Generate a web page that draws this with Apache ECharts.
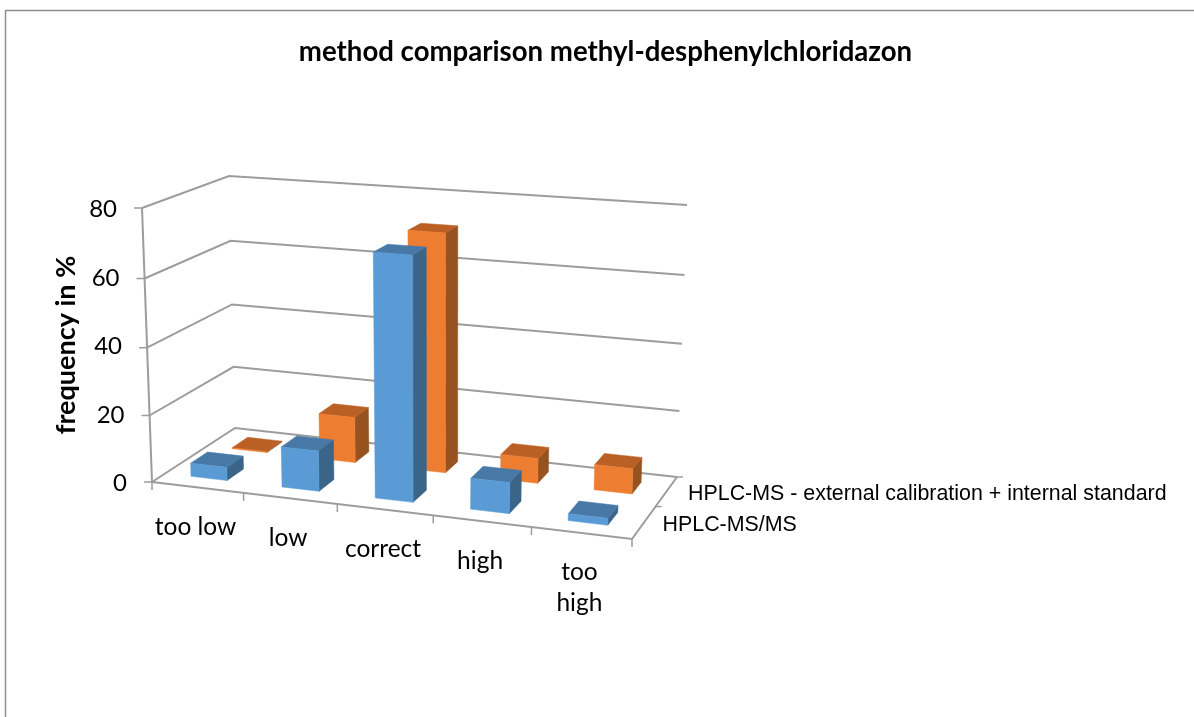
<!DOCTYPE html>
<html><head><meta charset="utf-8">
<style>html,body{margin:0;padding:0;background:#fff}#c{width:1194px;height:717px}</style>
<script src="https://cdn.jsdelivr.net/npm/echarts@6/dist/echarts.min.js"></script>
</head><body><div id="c"></div>
<script>
const titleText = 'method comparison methyl-desphenylchloridazon';
const yAxisName = 'frequency in %';
const categories = ['too low', 'low', 'correct', 'high', 'too\nhigh'];
const yTicks = [0, 20, 40, 60, 80];
const nameMSMS = 'HPLC-MS/MS';
const nameExt = 'HPLC-MS - external calibration + internal standard';
const valuesMSMS = [4, 12, 70.5, 9, 2];
const valuesExt = [0.3, 14, 71.3, 7.5, 7.5];

// perspective calibration of the 3D box: floor and top (value = axis max) corners
const FLOOR = {a:[152,482], c:[632,539], d:[677,477], b:[235,428]};
const TOP   = {a:[142,208], c:[645,243], d:[687,205], b:[229,176]};
function homography(q){
  const det=(p,r)=>p[0]*r[1]-p[1]*r[0];
  const dx1=[q.c[0]-q.d[0],q.c[1]-q.d[1]], dx2=[q.b[0]-q.d[0],q.b[1]-q.d[1]];
  const s=[q.a[0]-q.c[0]+q.d[0]-q.b[0], q.a[1]-q.c[1]+q.d[1]-q.b[1]];
  const D=det(dx1,dx2), g=det(s,dx2)/D, h=det(dx1,s)/D;
  return (u,w)=>{
    const k=g*u+h*w+1;
    return [0,1].map(i=>((q.c[i]-q.a[i]+g*q.c[i])*u+(q.b[i]-q.a[i]+h*q.b[i])*w+q.a[i])/k);
  };
}
const floorH=homography(FLOOR), topH=homography(TOP);
const HEIGHT_WARP=0.04;
function project(u,w,v0){
  const v=v0/(1+HEIGHT_WARP*(1-v0));
  const f=floorH(u,w), t=topH(u,w);
  return [f[0]+(t[0]-f[0])*v, f[1]+(t[1]-f[1])*v];
}
const BAR_HALF_U=0.04, SLOT_HALF_W=0.1, BAR_SHIFT_U=-0.003;
const GRAY='#9c9c9c';
const LATO='Lato, "Noto Sans", sans-serif';

function barItem(depthCenter, colors){
  return function(params, api){
    const cs=params.coordSys;
    const p=api.coord([api.value(0), api.value(1)]);
    const uc=(p[0]-cs.x)/cs.width+BAR_SHIFT_U;
    const v=(cs.y+cs.height-p[1])/cs.height;
    const u0=uc-BAR_HALF_U,u1=uc+BAR_HALF_U,w0=depthCenter-SLOT_HALF_W,w1=depthCenter+SLOT_HALF_W;
    const poly=(pts,c)=>({type:'polygon',shape:{points:pts},style:{fill:c,stroke:c,lineWidth:0.5}});
    return {type:'group',children:[
      poly([project(u1,w0,0),project(u1,w1,0),project(u1,w1,v),project(u1,w0,v)],colors.side),
      poly([project(u0,w0,v),project(u1,w0,v),project(u1,w1,v),project(u0,w1,v)],colors.top),
      poly([project(u0,w0,0),project(u1,w0,0),project(u1,w0,v),project(u0,w0,v)],colors.front)
    ]};
  };
}
function line(pts,w){return {type:'polyline',shape:{points:pts},style:{fill:null,stroke:GRAY,lineWidth:w||2}};}
function frameItem(params, api){
  if(params.dataIndex!==0) return null;
  const kids=[];
  const max=yTicks[yTicks.length-1];
  yTicks.forEach(t=>{
    const v=t/max, a=project(0,0,v);
    kids.push(line([a,project(0,1,v),project(1,1,v)]));
    kids.push(line([[a[0]-8,a[1]],a],1.5));
  });
  kids.push(line([project(0,0,0),project(0,0,1)]));
  kids.push(line([project(0,0,0),project(1,0,0),project(1,1,0)]));
  for(let i=0;i<=categories.length;i++){
    const p=project(i/categories.length,0,0);
    kids.push(line([p,[p[0],p[1]+8]],1.5));
  }
  [0.5,1].forEach(w=>{const p=project(1,w,0);kids.push(line([p,[p[0]+6,p[1]]],1.5));});
  categories.forEach((c,i)=>{
    const p=project((i+0.5)/categories.length,0,0);
    kids.push({type:'text',x:p[0]-2,y:p[1]+24,style:{text:c,fill:'#000',font:'24.5px '+LATO,align:'center',verticalAlign:'top',lineHeight:31}});
  });
  [[nameMSMS,0.25,18.5],[nameExt,0.75,21.5]].forEach(([n,w,dx])=>{
    const p=project(1,w,0);
    kids.push({type:'text',x:p[0]+dx,y:p[1]+2.5,style:{text:n,fill:'#000',font:'21.4px "Liberation Sans", Arial, sans-serif',align:'left',verticalAlign:'middle'}});
  });
  return {type:'group',children:kids};
}
const rich={};
yTicks.forEach(t=>{rich['t'+t]={padding:[3,t/80*10,0,0],fontSize:24,fontFamily:LATO,color:'#000'};});

const option={
  animation:false,
  backgroundColor:'#fff',
  title:{text:titleText,left:600.5,top:33,textAlign:'center',textStyle:{fontFamily:LATO,fontSize:27.6,fontWeight:'bold',color:'#000'}},
  grid:{left:142,top:208,width:490,height:274},
  xAxis:{type:'category',data:categories,show:false},
  yAxis:{type:'value',min:0,max:80,interval:20,name:yAxisName,nameLocation:'middle',nameGap:62,nameRotate:90,
    nameTextStyle:{fontFamily:LATO,fontSize:27,fontWeight:'bold',color:'#000',padding:[0,0,0,0]},
    axisLine:{show:false},axisTick:{show:false},splitLine:{show:false},
    axisLabel:{margin:15,formatter:v=>`{t${v}|${v}}`,rich:rich}},
  graphic:[{type:'polyline',shape:{points:[[5.5,717],[5.5,10.5],[1194,10.5]]},style:{fill:null,stroke:'#8f8f8f',lineWidth:1.5},silent:true}],
  series:[
    {type:'custom',name:'frame',renderItem:frameItem,data:[[0,0]],encode:{x:0,y:1},clip:false,z:1,silent:true},
    {type:'custom',name:nameExt,renderItem:barItem(0.75,{front:'#ED7D31',top:'#BA6024',side:'#97531F'}),data:valuesExt.map((v,i)=>[i,v]),encode:{x:0,y:1},clip:false,z:2},
    {type:'custom',name:nameMSMS,renderItem:barItem(0.25,{front:'#5B9BD5',top:'#4778A6',side:'#3A6589'}),data:valuesMSMS.map((v,i)=>[i,v]),encode:{x:0,y:1},clip:false,z:3}
  ]
};
echarts.init(document.getElementById('c')).setOption(option);
</script></body></html>
